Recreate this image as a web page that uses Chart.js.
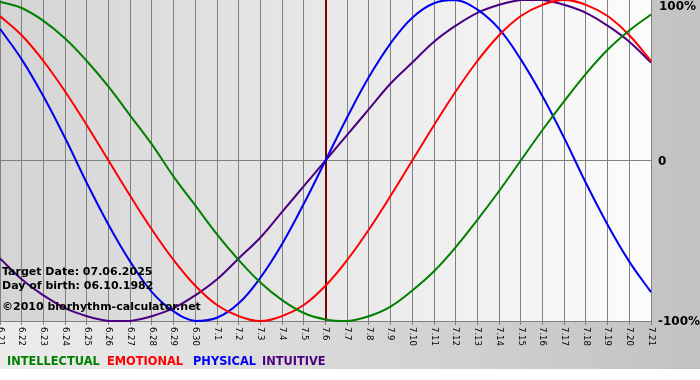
<!DOCTYPE html>
<html>
<head>
<meta charset="utf-8">
<script src="https://cdn.jsdelivr.net/npm/chart.js@4"></script>
<style>
  body { margin: 0; background: #fff; }
  canvas { display: block; }
</style>
</head>
<body>
<canvas id="bio" width="700" height="380"></canvas>
<script>
// dni (miesiąc.dzień)
const days = ['6.21','6.22','6.23','6.24','6.25','6.26','6.27','6.28','6.29','6.30',
  '7.1','7.2','7.3','7.4','7.5','7.6','7.7','7.8','7.9','7.10','7.11','7.12','7.13',
  '7.14','7.15','7.16','7.17','7.18','7.19','7.20','7.21'];
const targetDay = '7.6';
const yTicks = ['100%', '0', '-100%'];

const intellectual = [99,95,87,76,62,46,28,10,-10,-28,-46,-62,-76,-87,-95,-99,-100,-97,-91,-81,-69,-54,-37,-19,0,19,37,54,69,81,91];
const emotional = [90,78,62,43,22,0,-22,-43,-62,-78,-90,-97,-100,-97,-90,-78,-62,-43,-22,0,22,43,62,78,90,97,100,97,90,78,62];
const physical = [82,63,40,14,-14,-40,-63,-82,-94,-100,-98,-89,-73,-52,-27,0,27,52,73,89,98,100,94,82,63,40,14,-14,-40,-63,-82];
const intuitive = [-61,-74,-84,-92,-97,-100,-100,-97,-92,-84,-74,-61,-48,-32,-16,0,16,32,48,61,74,84,92,97,100,100,97,92,84,74,61];

const infoLines = ['Target Date: 07.06.2025', 'Day of birth: 06.10.1982', '\u00a92010 biorhythm-calculator.net'];

const bold = '"DejaVu Sans", Verdana, sans-serif';

const decor = {
  id: 'decor',
  beforeDraw(chart) {
    const c = chart.ctx, a = chart.chartArea;
    c.save();
    c.fillStyle = '#fff';
    c.fillRect(0, 0, chart.width, chart.height);
    let g = c.createLinearGradient(0, 0, chart.width, 0);
    g.addColorStop(0, '#ececec');
    g.addColorStop(1, '#c2c2c2');
    c.fillStyle = g;
    c.fillRect(0, 0, chart.width, 369);
    g = c.createLinearGradient(a.left, 0, a.right, 0);
    g.addColorStop(0, '#d4d4d4');
    g.addColorStop(1, '#fcfcfc');
    c.fillStyle = g;
    c.fillRect(a.left, a.top, a.right - a.left, a.bottom - a.top);
    c.restore();
  },
  beforeDatasetsDraw(chart) {
    const c = chart.ctx, a = chart.chartArea;
    const x = Math.round(chart.scales.x.getPixelForValue(days.indexOf(targetDay)));
    c.save();
    c.strokeStyle = '#7a0000';
    c.lineWidth = 2;
    c.beginPath();
    c.moveTo(x, a.top);
    c.lineTo(x, a.bottom);
    c.stroke();
    c.restore();
  },
  afterDraw(chart) {
    const c = chart.ctx, a = chart.chartArea, xs = chart.scales.x, ys = chart.scales.y;
    c.save();
    // etykiety osi x, obrócone
    c.fillStyle = '#000';
    c.font = '8.5px "DejaVu Sans", sans-serif';
    c.textAlign = 'left';
    c.textBaseline = 'middle';
    days.forEach((d, i) => {
      c.save();
      c.translate(xs.getPixelForValue(i), a.bottom + 6);
      c.rotate(Math.PI / 2);
      c.fillText(d, 0, 0);
      c.restore();
    });
    // oś y po prawej
    c.font = 'bold 12px ' + bold;
    c.textBaseline = 'middle';
    c.fillText(yTicks[0], 659, 7);
    c.fillText(yTicks[1], 658, ys.getPixelForValue(0) + 1);
    c.fillText(yTicks[2], 658, ys.getPixelForValue(-100) + 1);
    // info
    c.font = 'bold 11px ' + bold;
    c.fillText(infoLines[0], 2, 272);
    c.fillText(infoLines[1], 2, 286);
    c.fillText(infoLines[2], 2, 307);
    // legenda
    c.font = 'bold 11.4px ' + bold;
    const lx = [7, 107, 193, 262];
    chart.data.datasets.forEach((ds, i) => {
      c.fillStyle = ds.borderColor;
      c.fillText(ds.label, lx[i], 362);
    });
    c.restore();
  }
};

new Chart(document.getElementById('bio').getContext('2d'), {
  type: 'line',
  data: {
    labels: days,
    datasets: [
      {label: 'INTELLECTUAL', data: intellectual, borderColor: '#008000'},
      {label: 'EMOTIONAL', data: emotional, borderColor: '#ff0000'},
      {label: 'PHYSICAL', data: physical, borderColor: '#0000f0'},
      {label: 'INTUITIVE', data: intuitive, borderColor: '#4b0082'}
    ]
  },
  options: {
    responsive: false,
    animation: false,
    layout: {padding: 0},
    elements: {
      line: {borderWidth: 2, tension: 0.4},
      point: {radius: 0}
    },
    datasets: {line: {clip: 4}},
    plugins: {legend: {display: false}, tooltip: {enabled: false}},
    scales: {
      x: {
        offset: false,
        grid: {color: '#808080', tickLength: 4, drawTicks: true},
        border: {color: '#808080'},
        ticks: {display: false},
        afterFit(s) { s.height = 59; }
      },
      y: {
        position: 'right',
        min: -100, max: 100,
        ticks: {display: false, stepSize: 100},
        grid: {drawTicks: false, color: ctx => ctx.tick && ctx.tick.value === 0 ? '#808080' : 'rgba(0,0,0,0)'},
        border: {display: false},
        afterFit(s) { s.width = 49; }
      }
    }
  },
  plugins: [decor]
});
</script>
</body>
</html>
